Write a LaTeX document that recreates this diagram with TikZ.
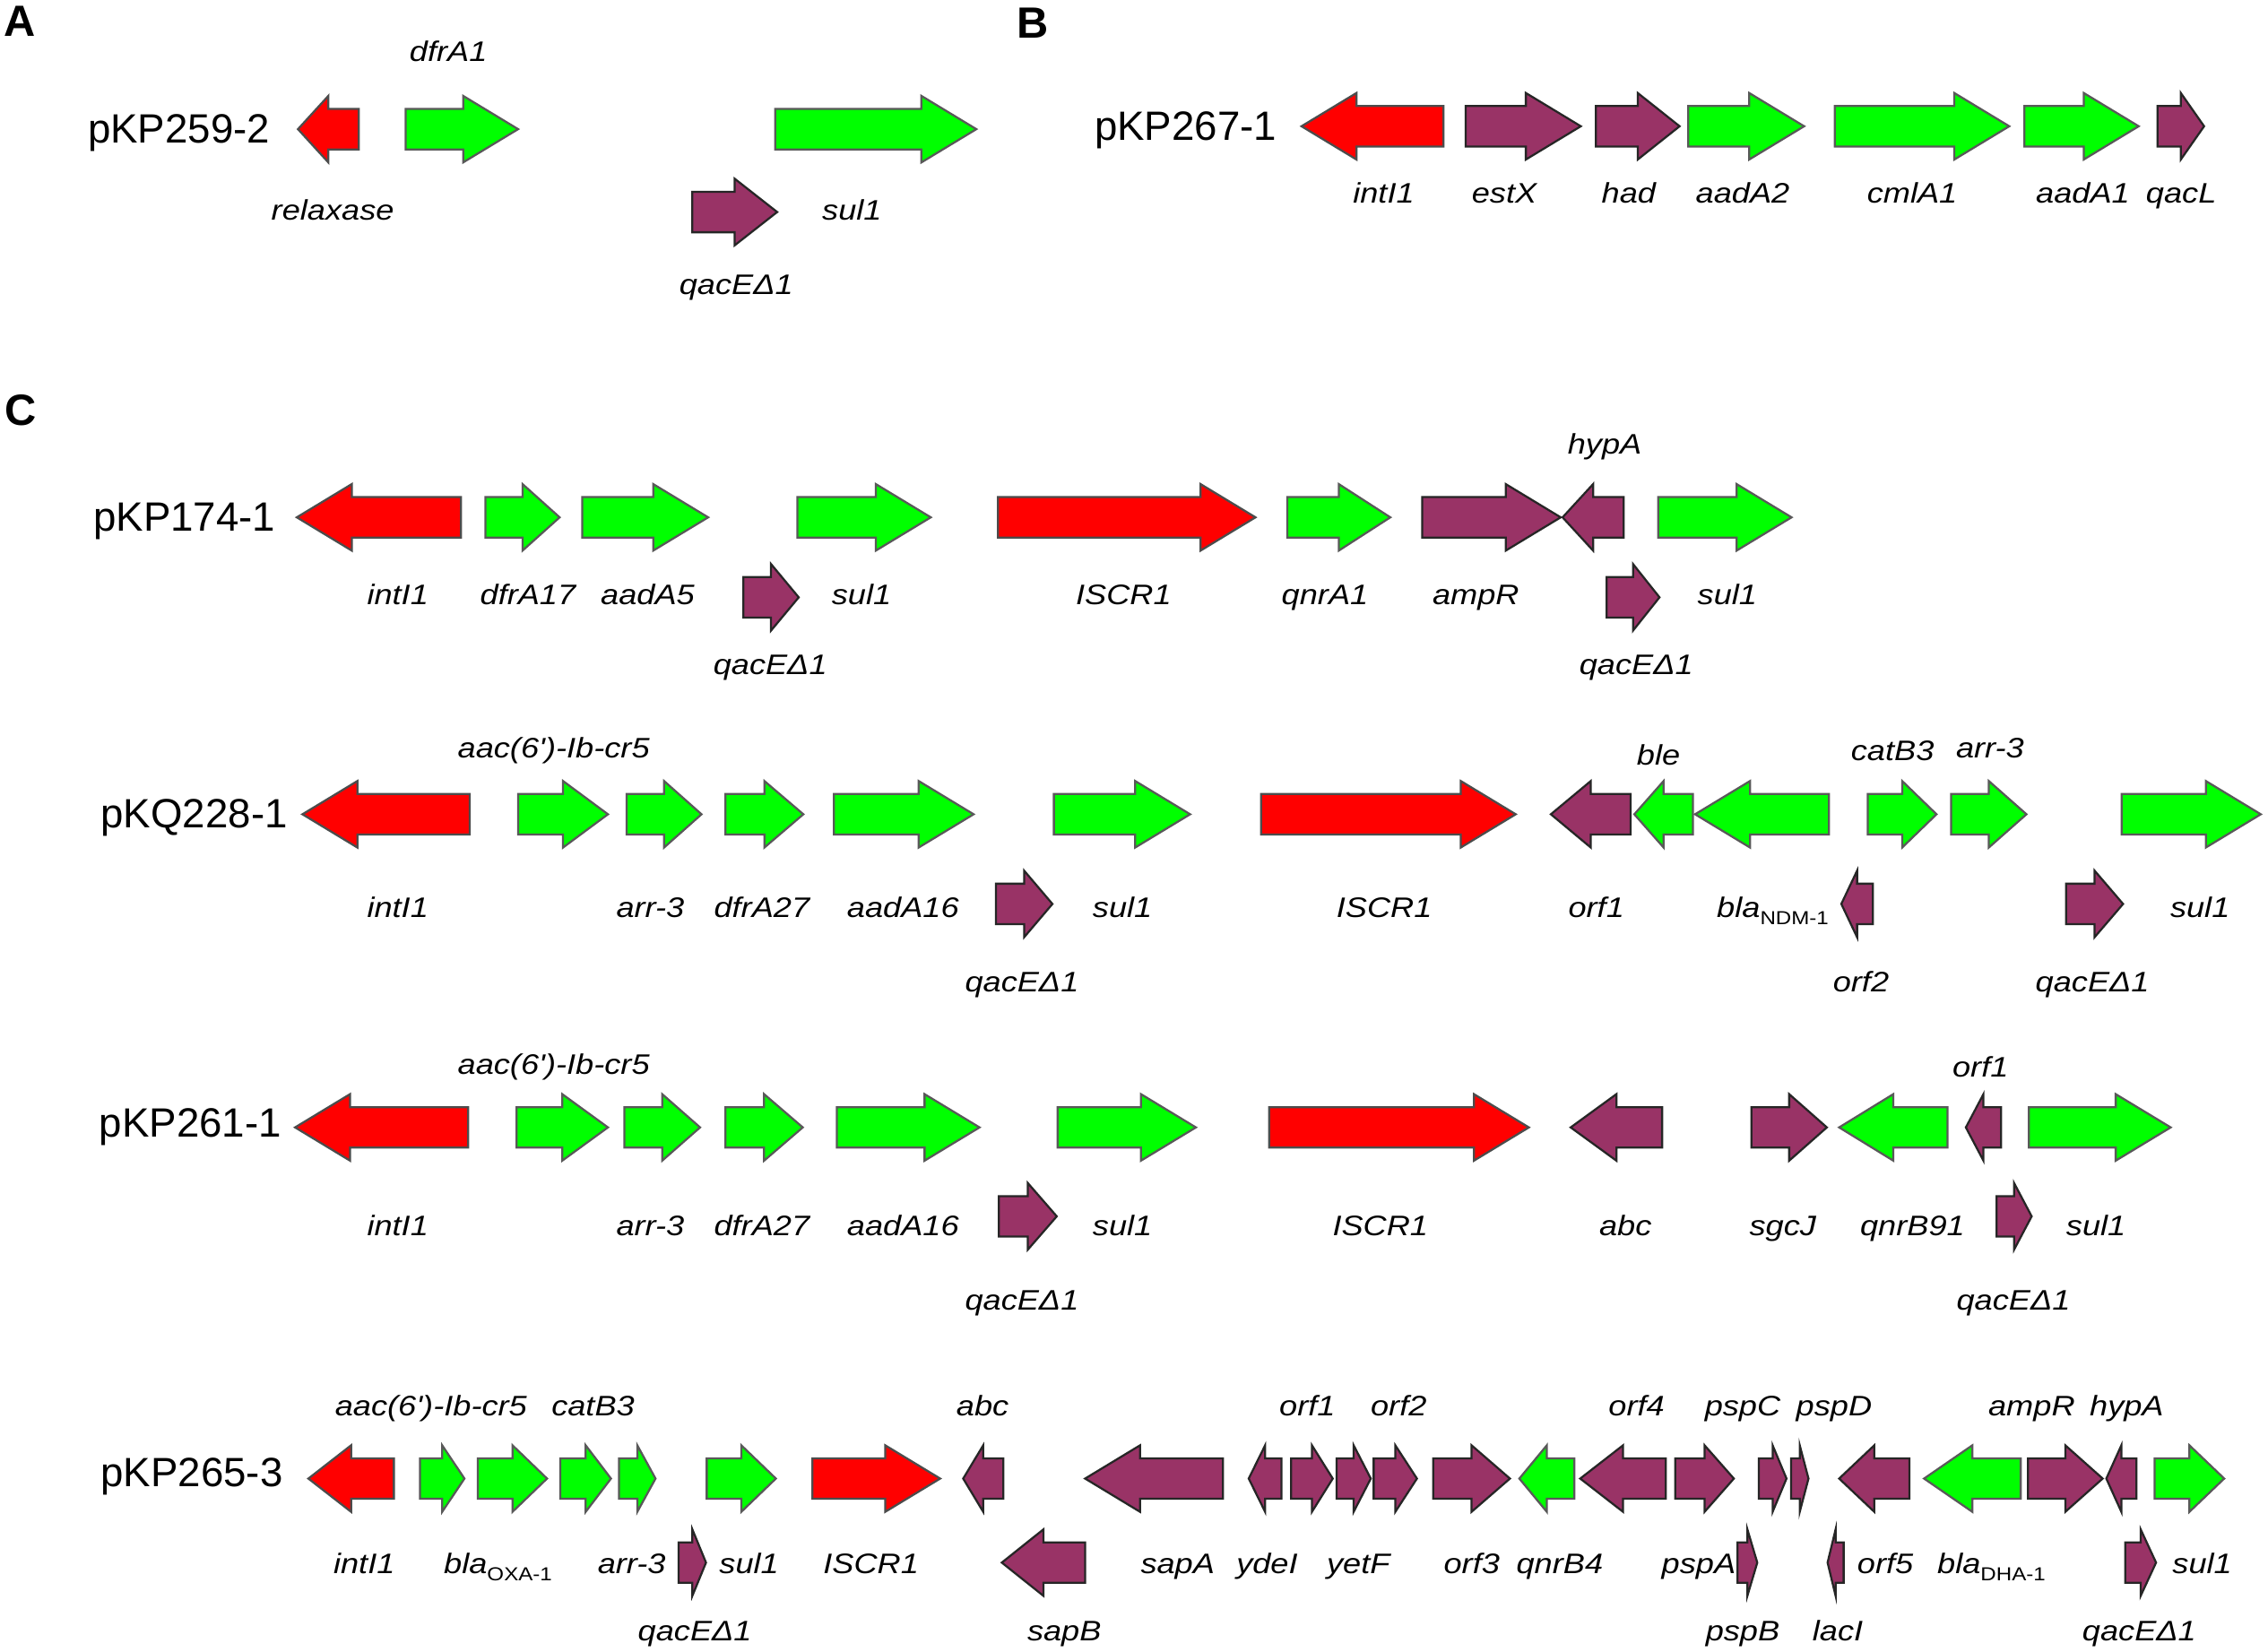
\documentclass[tikz,border=0pt]{standalone}
\usepackage{fontspec}
\setmainfont{Liberation Sans}
\newfontfamily\genefont[FakeStretch=1.15]{Liberation Sans}
\usetikzlibrary{positioning}

\definecolor{genegreen}{HTML}{00FF00}
\definecolor{genered}{HTML}{FF0000}
\definecolor{geneplum}{HTML}{993366}

% gene arrow: style, direction (r/l), x start, x end, y centre
\newcommand{\gene}[5]{%
  \pgfmathsetmacro{\gh}{min(38,(#4-#3)/2)}%
  \if#2r
    \draw[#1] (#3,#5-14) -- ({#4-\gh},#5-14) -- ({#4-\gh},#5-23) -- (#4,#5)
      -- ({#4-\gh},#5+23) -- ({#4-\gh},#5+14) -- (#3,#5+14) -- cycle;
  \else
    \draw[#1] (#4,#5-14) -- ({#3+\gh},#5-14) -- ({#3+\gh},#5-23) -- (#3,#5)
      -- ({#3+\gh},#5+23) -- ({#3+\gh},#5+14) -- (#4,#5+14) -- cycle;
  \fi}
\newcommand{\genesub}[1]{\raisebox{-0.1cm}{\upshape\fontsize{7.4}{8}\selectfont #1}}

\begin{document}
\begin{tikzpicture}[x=0.02cm, y=-0.02cm, line join=miter,
  redgene/.style={fill=genered, draw=black!70, line width=0.8pt},
  greengene/.style={fill=genegreen, draw=black!65, line width=0.8pt},
  plumgene/.style={fill=geneplum, draw=black!85, line width=0.8pt},
  glab/.style={anchor=base, inner sep=0pt, font=\genefont\itshape\fontsize{11.1}{13}\selectfont},
  plasmid/.style={anchor=base west, inner sep=0pt, font=\fontsize{16.1}{18}\selectfont},
  panel/.style={inner sep=0pt, font=\bfseries\fontsize{17.2}{19}\selectfont}]
  \useasboundingbox (0,0) rectangle (1568,1142);

  % panel letters
  \node[panel] (pA) at (14,15) {A};
  \node[panel] (pB) at (714,16) {B};
  \node[panel] (pC) at (14.6,283.5) {C};

  % A: pKP259-2
  \node[plasmid] (p2592) at (60.4,98.8) {pKP259-2};
  \gene{redgene}{l}{206}{248}{89.3}
  \gene{greengene}{r}{280.5}{358.2}{89.3}
  \gene{greengene}{r}{536}{675}{89.3}
  \gene{plumgene}{r}{478.6}{537.3}{146.6}
  \node[glab] (a-dfr) at (310,42.4) {dfrA1};
  \node[glab] (a-rel) at (230,152) {relaxase};
  \node[glab] (a-sul) at (589,152) {sul1};
  \node[glab] (a-qac) at (509,203.5) {qacEΔ1};

  % B: pKP267-1
  \node[plasmid] (p2671) at (756.4,97) {pKP267-1};
  \gene{redgene}{l}{899.8}{998}{87.3}
  \gene{plumgene}{r}{1013.3}{1092.9}{87.3}
  \gene{plumgene}{r}{1103.3}{1161.2}{87.3}
  \gene{greengene}{r}{1167.1}{1247.3}{87.3}
  \gene{greengene}{r}{1268.5}{1389.1}{87.3}
  \gene{greengene}{r}{1399.5}{1478.6}{87.3}
  \gene{plumgene}{r}{1491.6}{1523.8}{87.3}
  \node[glab] (b-int) at (956.6,140.5) {intI1};
  \node[glab] (b-est) at (1040,140.5) {estX};
  \node[glab] (b-had) at (1126,140.5) {had};
  \node[glab] (b-aad2) at (1204.8,140.5) {aadA2};
  \node[glab] (b-cml) at (1322,140.5) {cmlA1};
  \node[glab] (b-aad1) at (1440,140.5) {aadA1};
  \node[glab] (b-qacl) at (1508,140.5) {qacL};

  % C1: pKP174-1
  \node[plasmid] (p1741) at (64.3,367) {pKP174-1};
  \gene{redgene}{l}{205.2}{318.7}{357.7}
  \gene{greengene}{r}{335.6}{386.9}{357.7}
  \gene{greengene}{r}{402.6}{489.6}{357.7}
  \gene{greengene}{r}{551.3}{643.5}{357.7}
  \gene{plumgene}{r}{513.9}{552.2}{413}
  \gene{redgene}{r}{690}{868}{357.7}
  \gene{greengene}{r}{889.9}{961.2}{357.7}
  \gene{plumgene}{r}{983.3}{1079}{357.7}
  \gene{plumgene}{l}{1080.3}{1122.5}{357.7}
  \gene{greengene}{r}{1146.4}{1238.6}{357.7}
  \gene{plumgene}{r}{1110.7}{1147.3}{413}
  \node[glab] (c1-int) at (275,418.3) {intI1};
  \node[glab] (c1-dfr) at (365,418.3) {dfrA17};
  \node[glab] (c1-aad) at (447.8,418.3) {aadA5};
  \node[glab] (c1-sul) at (595.6,418.3) {sul1};
  \node[glab] (c1-qac) at (532.5,466.5) {qacEΔ1};
  \node[glab] (c1-iscr) at (776.8,418.3) {ISCR1};
  \node[glab] (c1-qnr) at (916,418.3) {qnrA1};
  \node[glab] (c1-amp) at (1020.3,418.3) {ampR};
  \node[glab] (c1-hyp) at (1109.4,314) {hypA};
  \node[glab] (c1-sul2) at (1194.2,418.3) {sul1};
  \node[glab] (c1-qac2) at (1131.2,466.5) {qacEΔ1};

  % C2: pKQ228-1
  \node[plasmid] (q2281) at (69.4,572.3) {pKQ228-1};
  \gene{redgene}{l}{209.1}{324.7}{563}
  \gene{greengene}{r}{358.2}{420.3}{563}
  \gene{greengene}{r}{433.2}{485}{563}
  \gene{greengene}{r}{501.5}{555.4}{563}
  \gene{greengene}{r}{576.5}{673.1}{563}
  \gene{plumgene}{r}{688.5}{727.6}{625}
  \gene{greengene}{r}{728.6}{822.8}{563}
  \gene{redgene}{r}{871.8}{1047.9}{563}
  \gene{plumgene}{l}{1072.2}{1127.4}{563}
  \gene{greengene}{l}{1129.9}{1170.4}{563}
  \gene{greengene}{l}{1171.9}{1264.4}{563}
  \gene{plumgene}{l}{1273}{1294.8}{625}
  \gene{greengene}{r}{1291.3}{1338.8}{563}
  \gene{greengene}{r}{1348.9}{1401}{563}
  \gene{plumgene}{r}{1428.4}{1467.8}{625}
  \gene{greengene}{r}{1466.8}{1563}{563}
  \node[glab] (c2-int) at (275,634.2) {intI1};
  \node[glab] (c2-aac) at (382.8,523.7) {aac(6')-Ib-cr5};
  \node[glab] (c2-arr) at (449.6,634.2) {arr-3};
  \node[glab] (c2-dfr) at (526.7,634.2) {dfrA27};
  \node[glab] (c2-aad) at (624.3,634.2) {aadA16};
  \node[glab] (c2-qac) at (706.5,685.9) {qacEΔ1};
  \node[glab] (c2-sul) at (776,634.2) {sul1};
  \node[glab] (c2-iscr) at (957,634.2) {ISCR1};
  \node[glab] (c2-orf1) at (1103.6,634.2) {orf1};
  \node[glab] (c2-ble) at (1146.6,528.9) {ble};
  \node[glab] (c2-ndm) at (1225.6,634.2) {bla\genesub{NDM-1}};
  \node[glab] (c2-orf2) at (1286.6,685.9) {orf2};
  \node[glab] (c2-cat) at (1308.4,525.8) {catB3};
  \node[glab] (c2-arr2) at (1375.8,523.7) {arr-3};
  \node[glab] (c2-qac2) at (1446.6,685.9) {qacEΔ1};
  \node[glab] (c2-sul2) at (1521,634.2) {sul1};

  % C3: pKP261-1
  \node[plasmid] (p2611) at (68.3,786) {pKP261-1};
  \gene{redgene}{l}{204}{323.7}{779.5}
  \gene{greengene}{r}{357.1}{420.3}{779.5}
  \gene{greengene}{r}{431.6}{484}{779.5}
  \gene{greengene}{r}{501.5}{555}{779.5}
  \gene{greengene}{r}{578.6}{677.2}{779.5}
  \gene{plumgene}{r}{690.6}{730.6}{841}
  \gene{greengene}{r}{731.2}{826.8}{779.5}
  \gene{redgene}{r}{877.4}{1057}{779.5}
  \gene{plumgene}{l}{1085.9}{1149.1}{779.5}
  \gene{plumgene}{r}{1210.9}{1263}{779.5}
  \gene{greengene}{l}{1271.5}{1346.4}{779.5}
  \gene{plumgene}{l}{1359.1}{1383.4}{779.5}
  \gene{greengene}{r}{1402.6}{1500.7}{779.5}
  \gene{plumgene}{r}{1380.3}{1404.6}{841}
  \node[glab] (c3-int) at (275,854.2) {intI1};
  \node[glab] (c3-aac) at (382.8,742.7) {aac(6')-Ib-cr5};
  \node[glab] (c3-arr) at (449.6,854.2) {arr-3};
  \node[glab] (c3-dfr) at (526.7,854.2) {dfrA27};
  \node[glab] (c3-aad) at (624.3,854.2) {aadA16};
  \node[glab] (c3-qac) at (706.5,905.9) {qacEΔ1};
  \node[glab] (c3-sul) at (776,854.2) {sul1};
  \node[glab] (c3-iscr) at (954.3,854.2) {ISCR1};
  \node[glab] (c3-abc) at (1123.8,854.2) {abc};
  \node[glab] (c3-sgc) at (1232.6,854.2) {sgcJ};
  \node[glab] (c3-qnr) at (1322.2,854.2) {qnrB91};
  \node[glab] (c3-orf1) at (1369.2,744.8) {orf1};
  \node[glab] (c3-qac2) at (1392,905.9) {qacEΔ1};
  \node[glab] (c3-sul2) at (1449.1,854.2) {sul1};

  % C4: pKP265-3
  \node[plasmid] (p2653) at (69.4,1027.8) {pKP265-3};
  \gene{redgene}{l}{213.2}{272.3}{1022.3}
  \gene{greengene}{r}{290.3}{321.1}{1022.3}
  \gene{greengene}{r}{330.4}{378.2}{1022.3}
  \gene{greengene}{r}{387.4}{422.4}{1022.3}
  \gene{greengene}{r}{428}{453.2}{1022.3}
  \gene{greengene}{r}{488.6}{536.4}{1022.3}
  \gene{plumgene}{r}{469.2}{488.1}{1080.4}
  \gene{redgene}{r}{561.6}{650}{1022.3}
  \gene{plumgene}{l}{665.9}{693.6}{1022.3}
  \gene{plumgene}{l}{692.6}{750.2}{1080.4}
  \gene{plumgene}{l}{750.2}{845.5}{1022.3}
  \gene{plumgene}{l}{863.3}{886}{1022.3}
  \gene{plumgene}{r}{892.6}{921.4}{1022.3}
  \gene{plumgene}{r}{924}{947.7}{1022.3}
  \gene{plumgene}{r}{949.7}{979.6}{1022.3}
  \gene{plumgene}{r}{990.8}{1043.9}{1022.3}
  \gene{greengene}{l}{1050.4}{1088.4}{1022.3}
  \gene{plumgene}{l}{1092.5}{1151.7}{1022.3}
  \gene{plumgene}{r}{1158.2}{1198.7}{1022.3}
  \gene{plumgene}{r}{1215.9}{1235.1}{1022.3}
  \gene{plumgene}{r}{1238.2}{1250.3}{1022.3}
  \gene{plumgene}{r}{1201.2}{1214.9}{1080.4}
  \gene{plumgene}{l}{1271.5}{1320.1}{1022.3}
  \gene{plumgene}{l}{1263.5}{1274.6}{1080.4}
  \gene{greengene}{l}{1330.2}{1397}{1022.3}
  \gene{plumgene}{r}{1402}{1453.7}{1022.3}
  \gene{plumgene}{l}{1456.2}{1477}{1022.3}
  \gene{greengene}{r}{1489.6}{1537.7}{1022.3}
  \gene{plumgene}{r}{1469.3}{1490.6}{1080.4}
  \node[glab] (c4-int) at (251.8,1087.7) {intI1};
  \node[glab] (c4-aac) at (298,979.2) {aac(6')-Ib-cr5};
  \node[glab] (c4-oxa) at (344.3,1087.7) {bla\genesub{OXA-1}};
  \node[glab] (c4-cat) at (410,979.2) {catB3};
  \node[glab] (c4-arr) at (436.7,1087.7) {arr-3};
  \node[glab] (c4-qac) at (480.4,1134.2) {qacEΔ1};
  \node[glab] (c4-sul) at (517.9,1087.7) {sul1};
  \node[glab] (c4-iscr) at (602.2,1087.7) {ISCR1};
  \node[glab] (c4-abc) at (679.3,979.2) {abc};
  \node[glab] (c4-sapb) at (735.8,1134.2) {sapB};
  \node[glab] (c4-sapa) at (814.2,1087.7) {sapA};
  \node[glab] (c4-yde) at (876,1087.7) {ydeI};
  \node[glab] (c4-orf1) at (903.8,979.2) {orf1};
  \node[glab] (c4-yet) at (939.1,1087.7) {yetF};
  \node[glab] (c4-orf2) at (967,979.2) {orf2};
  \node[glab] (c4-orf3) at (1017.5,1087.7) {orf3};
  \node[glab] (c4-qnr) at (1078.3,1087.7) {qnrB4};
  \node[glab] (c4-orf4) at (1131.4,979.2) {orf4};
  \node[glab] (c4-pspa) at (1174.4,1087.7) {pspA};
  \node[glab] (c4-pspc) at (1204.8,979.2) {pspC};
  \node[glab] (c4-pspb) at (1204.8,1134.2) {pspB};
  \node[glab] (c4-pspd) at (1268,979.2) {pspD};
  \node[glab] (c4-lac) at (1270.5,1134.2) {lacI};
  \node[glab] (c4-orf5) at (1303.4,1087.7) {orf5};
  \node[glab] (c4-dha) at (1376.8,1087.7) {bla\genesub{DHA-1}};
  \node[glab] (c4-amp) at (1404.6,979.2) {ampR};
  \node[glab] (c4-hyp) at (1470.3,979.2) {hypA};
  \node[glab] (c4-qac2) at (1479,1134.2) {qacEΔ1};
  \node[glab] (c4-sul2) at (1522.5,1087.7) {sul1};
\end{tikzpicture}
\end{document}
